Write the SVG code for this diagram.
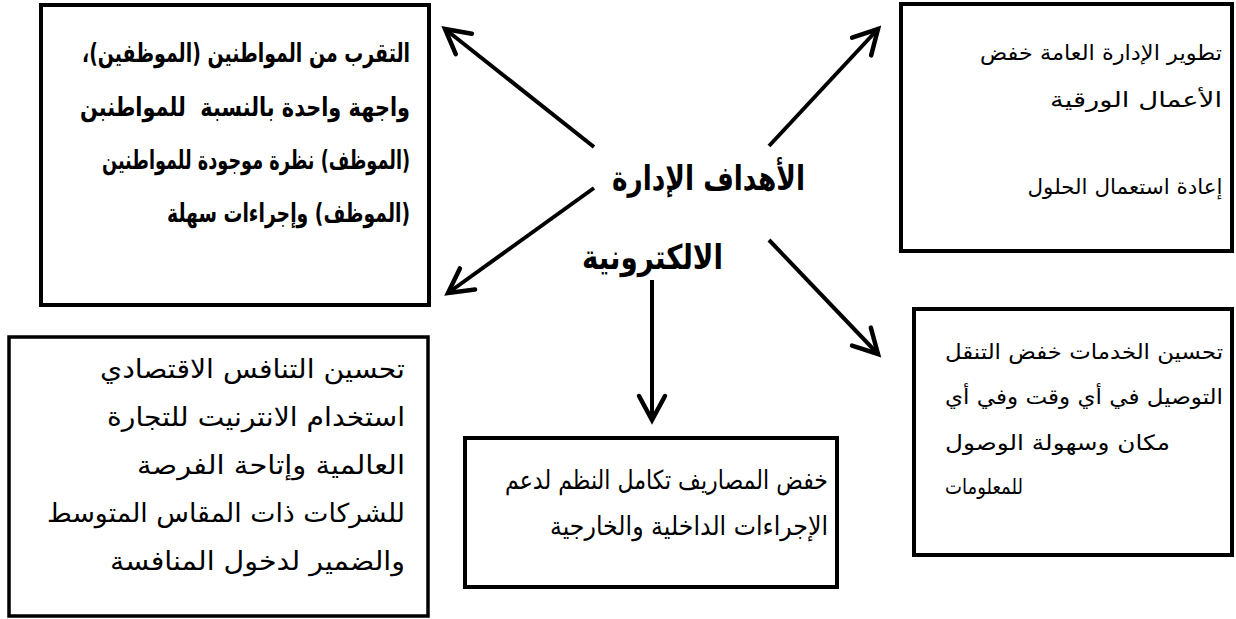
<svg xmlns="http://www.w3.org/2000/svg" width="1236" height="619" viewBox="0 0 1236 619">
<style>
.box{fill:#fff;stroke:#000;stroke-width:4}
.t{font-family:"DejaVu Sans",sans-serif;font-size:26px;fill:#000;direction:rtl;text-anchor:middle;white-space:pre}
.r{font-size:21px}
.b{font-weight:bold}
.a{font-family:"DejaVu Sans",sans-serif;font-size:26px;fill:#000;direction:rtl;text-anchor:middle}
.c{font-family:"DejaVu Sans",sans-serif;font-size:34px;font-weight:bold;fill:#000;direction:rtl;text-anchor:middle}
.con line{stroke:#000;stroke-width:4;marker-end:url(#ah)}
</style>
<defs>
<marker id="ah" markerUnits="userSpaceOnUse" viewBox="-28 -16 32 32" markerWidth="32" markerHeight="32" refX="0" refY="0" orient="auto" overflow="visible">
<path d="M-24,-13 L0,0 L-24,13" fill="none" stroke="#000" stroke-width="4.5" stroke-linecap="round" stroke-linejoin="miter"/>
</marker>
</defs>
<rect width="1236" height="619" fill="#fff"/>
<g id="n-topleft">
<rect class="box" x="41" y="5" width="388" height="300"/>
<text class="t b" x="246" y="62" textLength="328" lengthAdjust="spacingAndGlyphs">التقرب من المواطنين (الموظفين)،</text>
<text class="t b" x="245" y="116" textLength="330" lengthAdjust="spacingAndGlyphs">واجهة واحدة بالنسبة  للمواطنبن</text>
<text class="t b" x="256" y="169" textLength="308" lengthAdjust="spacingAndGlyphs">(الموظف) نظرة موجودة للمواطنين</text>
<text class="t b" x="288.5" y="222" textLength="243" lengthAdjust="spacingAndGlyphs">(الموظف) وإجراءات سهلة</text>
</g>
<g id="n-topright">
<rect class="box" x="901" y="4" width="331" height="247"/>
<text class="t r" x="1101" y="60" textLength="242" lengthAdjust="spacingAndGlyphs">تطوير الإدارة العامة خفض</text>
<text class="t r" x="1136" y="107" textLength="172" lengthAdjust="spacingAndGlyphs">الأعمال الورقية</text>
<text class="t r" x="1125" y="194" textLength="195" lengthAdjust="spacingAndGlyphs">إعادة استعمال الحلول</text>
</g>
<g id="n-center">
<text class="c" x="708.5" y="190" textLength="193" lengthAdjust="spacingAndGlyphs">الأهداف الإدارة</text>
<text class="c" x="652.5" y="269" textLength="141" lengthAdjust="spacingAndGlyphs">الالكترونية</text>
</g>
<g id="n-bottomleft">
<rect class="box" x="9" y="337" width="419" height="279" style="stroke-width:3.5"/>
<text class="a" x="252.5" y="378" textLength="305" lengthAdjust="spacingAndGlyphs">تحسين التنافس الاقتصادي</text>
<text class="a" x="256" y="426" textLength="298" lengthAdjust="spacingAndGlyphs">استخدام الانترنيت للتجارة</text>
<text class="a" x="271" y="474" textLength="268" lengthAdjust="spacingAndGlyphs">العالمية وإتاحة الفرصة</text>
<text class="a" x="226" y="522" textLength="358" lengthAdjust="spacingAndGlyphs">للشركات ذات المقاس المتوسط</text>
<text class="a" x="257.5" y="570" textLength="295" lengthAdjust="spacingAndGlyphs">والضمير لدخول المنافسة</text>
</g>
<g id="n-bottomcenter">
<rect class="box" x="465" y="438" width="372" height="149"/>
<text class="t" x="666.5" y="489" textLength="323" lengthAdjust="spacingAndGlyphs">خفض المصاريف تكامل النظم لدعم</text>
<text class="t" x="689" y="535" textLength="278" lengthAdjust="spacingAndGlyphs">الإجراءات الداخلية والخارجية</text>
</g>
<g id="n-bottomright">
<rect class="box" x="914" y="309" width="318" height="246"/>
<text class="t r" x="1084" y="359" textLength="278" lengthAdjust="spacingAndGlyphs">تحسين الخدمات خفض التنقل</text>
<text class="t r" x="1084" y="404" textLength="278" lengthAdjust="spacingAndGlyphs">التوصيل في أي وقت وفي أي</text>
<text class="t r" x="1057.5" y="450" textLength="225" lengthAdjust="spacingAndGlyphs">مكان وسهولة الوصول</text>
<text class="t r" x="984" y="494" textLength="78" lengthAdjust="spacingAndGlyphs">للمعلومات</text>
</g>
<g id="connectors" class="con">
<line x1="594" y1="147" x2="445" y2="29"/>
<line x1="769" y1="146" x2="878" y2="29"/>
<line x1="594" y1="188" x2="448" y2="293"/>
<line x1="652" y1="280" x2="652" y2="420"/>
<line x1="769" y1="240" x2="878" y2="354"/>
</g>
</svg>
